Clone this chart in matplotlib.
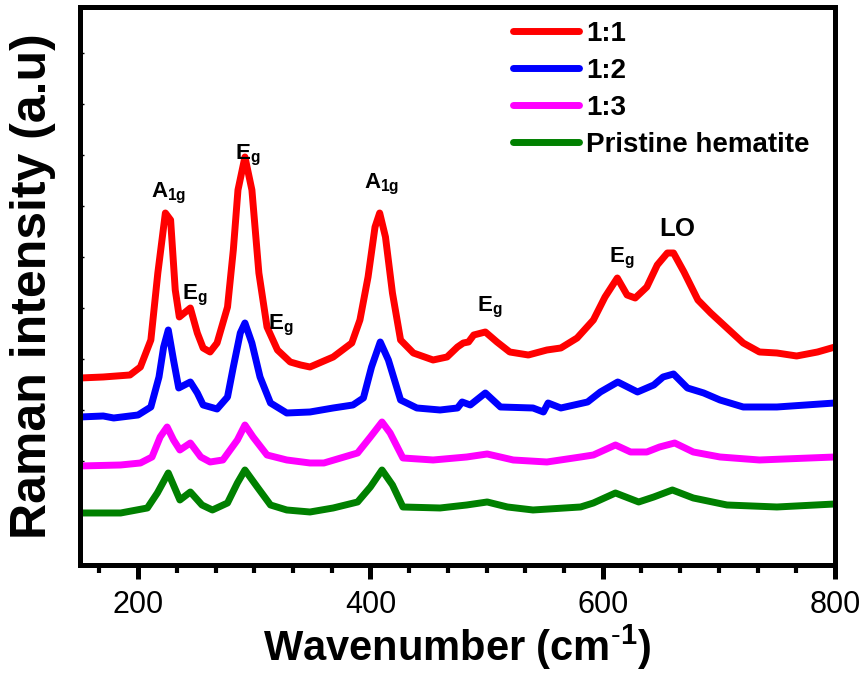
import matplotlib
matplotlib.use("Agg")
import matplotlib.pyplot as plt
from matplotlib.ticker import MultipleLocator

plt.rcParams['font.family'] = ['Liberation Sans', 'DejaVu Sans']
plt.rcParams['mathtext.fontset'] = 'custom'
plt.rcParams['mathtext.rm'] = 'Liberation Sans'
plt.rcParams['mathtext.bf'] = 'Liberation Sans:bold'
plt.rcParams['mathtext.default'] = 'regular'

# ---- data (stacked intensities in a.u.) ----
wn_11 = [150, 170, 193, 202, 211, 217, 223.5, 228, 232, 235.5, 245, 251, 256, 262, 268, 277,
         282, 286, 292, 298, 304, 311, 320, 331, 340, 348, 368, 384, 391, 398, 404, 408,
         413, 419, 426, 437, 454, 466, 475, 480, 484.5, 489, 499, 509, 520, 536, 552, 564,
         578, 592, 602, 612.6, 621, 628, 638, 647, 655.7, 661, 670, 682, 693, 707, 721, 735,
         750, 767, 785, 800]
int_11 = [187, 188, 190, 198, 225, 292, 352, 345, 275, 248, 257, 232, 217, 213, 222, 258,
          315, 375, 408, 375, 292, 238, 215, 203, 200, 198, 208, 222, 245, 288, 338, 352,
          328, 272, 225, 212, 205, 208, 218, 222, 223, 230, 233, 223, 213, 210, 215, 217,
          227, 245, 268, 287, 270, 267, 278, 300, 312, 312, 293, 265, 252, 237, 222, 213,
          212, 209, 213, 218]

wn_12 = [150, 170, 179, 200, 211, 218, 222, 226, 230.5, 235, 245, 251, 256, 268, 277, 282,
         288, 292, 298, 305, 314, 328, 348, 368, 385, 394, 401, 408.5, 415.5, 426, 440, 460,
         475, 479, 486, 499, 512, 540, 549, 553, 564, 587, 598, 613, 630, 644, 652, 661,
         673, 687, 701, 721, 750, 800]
int_12 = [148, 149, 147, 150, 158, 188, 218, 235, 205, 177, 183, 172, 160, 156, 168, 198,
          232, 242, 222, 188, 162, 152, 153, 157, 160, 167, 198, 223, 205, 165, 157, 155,
          157, 163, 160, 172, 158, 157, 153, 162, 157, 163, 173, 183, 173, 180, 188, 191,
          177, 172, 165, 158, 158, 162]

wn_13 = [150, 185, 202, 212, 219, 225, 230.5, 236, 245, 254, 262, 273, 285.5, 292, 299, 311,
         328, 348, 360, 389, 400, 410, 417, 428, 454, 483, 500.6, 523, 552, 581, 592, 611,
         624, 638, 649, 662, 678, 701, 735, 800]
int_13 = [99, 100, 102, 108, 128, 138, 125, 115, 122, 108, 103, 105, 125, 140, 128, 110,
          105, 102, 102, 112, 128, 143, 132, 107, 105, 108, 111, 105, 103, 108, 110, 120,
          113, 113, 118, 122, 113, 108, 105, 108]

wn_pr = [150, 185, 208, 216.6, 226, 236, 245, 255, 264, 277, 285.5, 292, 302.6, 314, 328, 348,
         368, 389, 400, 410, 419, 428, 460, 483, 500.6, 518, 540, 581, 592, 611, 631, 644,
         660, 678, 707, 750, 800]
int_pr = [52, 52, 57, 72, 92, 65, 73, 60, 55, 62, 82, 95, 78, 60, 55, 53,
          57, 63, 78, 95, 80, 58, 57, 60, 63, 58, 55, 58, 62, 72, 63, 68,
          75, 67, 60, 58, 61]

labels = ['1:1', '1:2', '1:3', 'Pristine hematite']
colors = ['#ff0000', '#0000ff', '#ff00ff', '#008000']

# peak labels: (text, wavenumber, intensity)
A1g = r'$\mathbf{A}_{\mathbf{1g}}$'
Eg = r'$\mathbf{E}_{\mathbf{g}}$'
peak_text = [A1g, Eg, Eg, Eg, A1g, Eg, Eg, r'$\mathbf{LO}$']
peak_x = [226, 249, 294, 323, 410, 503, 616, 664]
peak_y = [372, 270, 410, 240, 381, 258, 307, 336]
peak_size = [16, 16, 16, 16, 16, 16, 16, 18.5]

fig = plt.figure(figsize=(8.64, 6.73), dpi=100)
ax = fig.add_axes([0.0926, 0.1605, 0.8738, 0.8291])

series = [(wn_11, int_11), (wn_12, int_12), (wn_13, int_13), (wn_pr, int_pr)]
for (x, y), c, lab in zip(series, colors, labels):
    ax.plot(x, y, color=c, lw=5, label=lab, solid_joinstyle='round', solid_capstyle='round')

for t, x, y, fs in zip(peak_text, peak_x, peak_y, peak_size):
    ax.text(x, y, t, fontsize=fs, ha='center', va='center')

ax.set_xlim(150, 800)
ax.set_ylim(0, 558)
ax.xaxis.set_major_locator(MultipleLocator(200))
ax.xaxis.set_minor_locator(MultipleLocator(200 / 6))
ax.set_yticks([53 + 51 * i for i in range(10)])
ax.set_yticklabels([])

for s in ax.spines.values():
    s.set_linewidth(3.6)
ax.tick_params(axis='x', which='major', direction='out', length=10, width=3.6,
               labelsize=22, pad=8)
ax.tick_params(axis='x', which='minor', direction='out', length=6, width=3)
ax.tick_params(axis='y', which='major', direction='in', length=3, width=1)

ax.set_xlabel(r'Wavenumber (cm$^{\mathregular{\text{-}1}}$)', fontsize=30, fontweight='bold',
              labelpad=2)
ax.set_ylabel('Raman intensity (a.u)', fontsize=36, fontweight='bold', labelpad=14)

leg = ax.legend(loc='upper right', frameon=False, fontsize=20, handlelength=2.4,
                handletextpad=0.25, labelspacing=0.4, borderaxespad=0.1,
                bbox_to_anchor=(0.985, 1.0))
for txt in leg.get_texts():
    txt.set_fontweight('bold')

fig.savefig('out.png', dpi=100)
